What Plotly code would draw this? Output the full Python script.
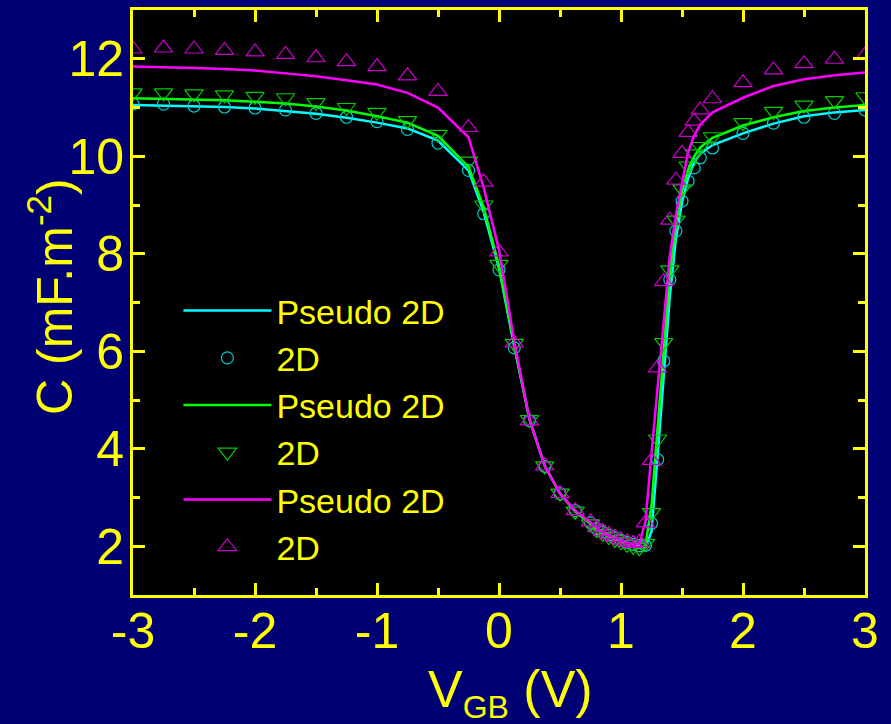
import plotly.graph_objects as go

# Gate-body voltage grid (V)
vgb = [-3, -2.75, -2.5, -2.25, -2, -1.75, -1.5, -1.25, -1, -0.75, -0.5, -0.25, -0.125,
       0, 0.125, 0.25, 0.375, 0.5, 0.625, 0.75, 0.8, 0.85, 0.9, 0.95, 1.0, 1.05, 1.1,
       1.15, 1.2, 1.25, 1.3, 1.35, 1.4, 1.45, 1.5, 1.55, 1.6, 1.65, 1.75, 2, 2.25, 2.5,
       2.75, 3]

# Pseudo 2D model curves (mF.m^-2)
cyan_pseudo = [11.05, 11.04, 11.03, 11.01, 10.98, 10.93, 10.87, 10.79, 10.69, 10.57, 10.32,
               9.71, 8.85, 7.70, 6.10, 4.60, 3.65, 3.08, 2.72, 2.47, 2.36, 2.28, 2.22, 2.16,
               2.11, 2.07, 2.03, 2.00, 1.98, 2.30, 3.84, 5.48, 7.12, 8.30, 9.05, 9.55, 9.88,
               10.05, 10.23, 10.47, 10.67, 10.82, 10.90, 10.95]
green_pseudo = [11.19, 11.18, 11.17, 11.15, 11.12, 11.08, 11.02, 10.94, 10.82, 10.69, 10.42,
                9.78, 8.95, 7.75, 6.13, 4.60, 3.65, 3.08, 2.71, 2.46, 2.34, 2.26, 2.19, 2.13,
                2.08, 2.03, 1.99, 1.97, 2.00, 2.84, 4.42, 6.00, 7.59, 8.60, 9.28, 9.72, 10.00,
                10.18, 10.38, 10.63, 10.80, 10.93, 11.00, 11.05]
magenta_pseudo = [11.84, 11.83, 11.81, 11.79, 11.76, 11.70, 11.64, 11.56, 11.47, 11.30, 11.00,
                  10.39, 9.35, 8.08, 6.20, 4.60, 3.65, 3.08, 2.73, 2.49, 2.37, 2.29, 2.22, 2.16,
                  2.11, 2.07, 2.03, 2.06, 2.50, 3.90, 5.30, 6.65, 7.95, 8.80, 9.45, 10.08, 10.43,
                  10.65, 10.90, 11.20, 11.44, 11.58, 11.66, 11.72]

# 2D simulation points (mF.m^-2)
cyan_2d = [11.07, 11.07, 11.03, 11.01, 10.99, 10.95, 10.88, 10.80, 10.71, 10.55, 10.27,
           9.71, 8.82, 7.67, 6.07, 4.58, 3.64, 3.08, 2.73, 2.48, 2.36, 2.29, 2.23, 2.17,
           2.12, 2.08, 2.04, 2.01, 2.02, 2.47, 3.78, 5.80, 7.47, 8.47, 9.08, 9.49, 9.76,
           9.97, 10.17, 10.47, 10.68, 10.80, 10.88, 10.95]
green_2d = [11.30, 11.30, 11.28, 11.26, 11.23, 11.20, 11.10, 11.00, 10.90, 10.73, 10.45,
            9.90, 9.00, 7.78, 6.16, 4.60, 3.65, 3.09, 2.72, 2.46, 2.34, 2.26, 2.20, 2.14,
            2.09, 2.04, 2.00, 1.97, 2.06, 2.69, 4.20, 6.18, 7.67, 8.69, 9.33, 9.80, 10.05,
            10.20, 10.40, 10.69, 10.92, 11.05, 11.14, 11.22]
magenta_2d = [12.20, 12.22, 12.20, 12.17, 12.14, 12.09, 12.02, 11.94, 11.84, 11.65, 11.33,
              10.59, 9.47, 8.04, 6.17, 4.57, 3.65, 3.08, 2.73, 2.50, 2.38, 2.30, 2.24, 2.18,
              2.13, 2.09, 2.06, 2.08, 2.48, 3.76, 5.66, 7.43, 8.69, 9.51, 10.06, 10.49, 10.72,
              10.95, 11.18, 11.51, 11.77, 11.90, 11.99, 12.07]

x_tickvals = [-3, -2, -1, 0, 1, 2, 3]
x_ticktext = ["-3", "-2", "-1", "0", "1", "2", "3"]
y_tickvals = [2, 4, 6, 8, 10, 12]
y_ticktext = ["2", "4", "6", "8", "10", "12"]

YELLOW = "#FFFF00"
NAVY = "#000075"
FONT = "Liberation Sans, Arial, sans-serif"

series = [
    (cyan_pseudo, cyan_2d, "#00FFFF", "#00CCCC", "circle-open", 12),
    (green_pseudo, green_2d, "#00FF00", "#00CC00", "triangle-down-open", 16),
    (magenta_pseudo, magenta_2d, "#FF00FF", "#CC00CC", "triangle-up-open", 16),
]

fig = go.Figure()
for line_y, pts_y, lcol, mcol, sym, msize in series:
    fig.add_trace(go.Scatter(x=vgb, y=line_y, mode="lines", name="Pseudo 2D",
                             line=dict(color=lcol, width=2.5)))
    fig.add_trace(go.Scatter(x=vgb, y=pts_y, mode="markers", name="2D",
                             marker=dict(symbol=sym, size=msize, color=mcol,
                                         line=dict(color=mcol, width=1.2))))

axis_common = dict(
    showline=True, linecolor=YELLOW, linewidth=3, mirror="allticks",
    ticks="inside", ticklen=12, tickwidth=3, tickcolor=YELLOW,
    showgrid=False, zeroline=False,
    tickfont=dict(family=FONT, size=50, color=YELLOW),
)

fig.update_layout(
    width=891, height=724,
    margin=dict(l=133, r=26, t=7, b=129),
    paper_bgcolor=NAVY,
    plot_bgcolor="#000000",
    font=dict(family=FONT, color=YELLOW),
    showlegend=True,
    legend=dict(
        x=0.062, y=0.535, xanchor="left", yanchor="top",
        bgcolor="rgba(0,0,0,0)", borderwidth=0,
        font=dict(family=FONT, size=34, color=YELLOW),
        itemwidth=88, tracegroupgap=0,
    ),
    xaxis=dict(
        range=[-3, 3], tickvals=x_tickvals, ticktext=x_ticktext,
        ticklabelstandoff=-10,
        minor=dict(dtick=0.5, ticks="inside", ticklen=7, tickwidth=3, tickcolor=YELLOW),
        **axis_common,
    ),
    yaxis=dict(
        range=[1, 13], tickvals=y_tickvals, ticktext=y_ticktext,
        ticklabelstandoff=-4,
        minor=dict(dtick=1, ticks="inside", ticklen=7, tickwidth=3, tickcolor=YELLOW),
        **axis_common,
    ),
    annotations=[
        dict(
            text="C (mF.m<sup>-2</sup>)", textangle=-90,
            xref="paper", yref="paper", x=-0.113, y=0.51,
            xanchor="center", yanchor="middle", showarrow=False,
            font=dict(family=FONT, size=50, color=YELLOW),
        ),
        dict(
            text="V<sub><span style='font-size:32px'>GB</span></sub> (V)",
            xref="paper", yref="paper", x=0.516, y=-0.108,
            xanchor="center", yanchor="top", showarrow=False,
            font=dict(family=FONT, size=52, color=YELLOW),
        ),
    ],
)

fig.write_html(
    "out.html",
    config={"displayModeBar": False},
    post_script="document.body.style.margin='0';document.body.style.background='%s';" % NAVY,
)
